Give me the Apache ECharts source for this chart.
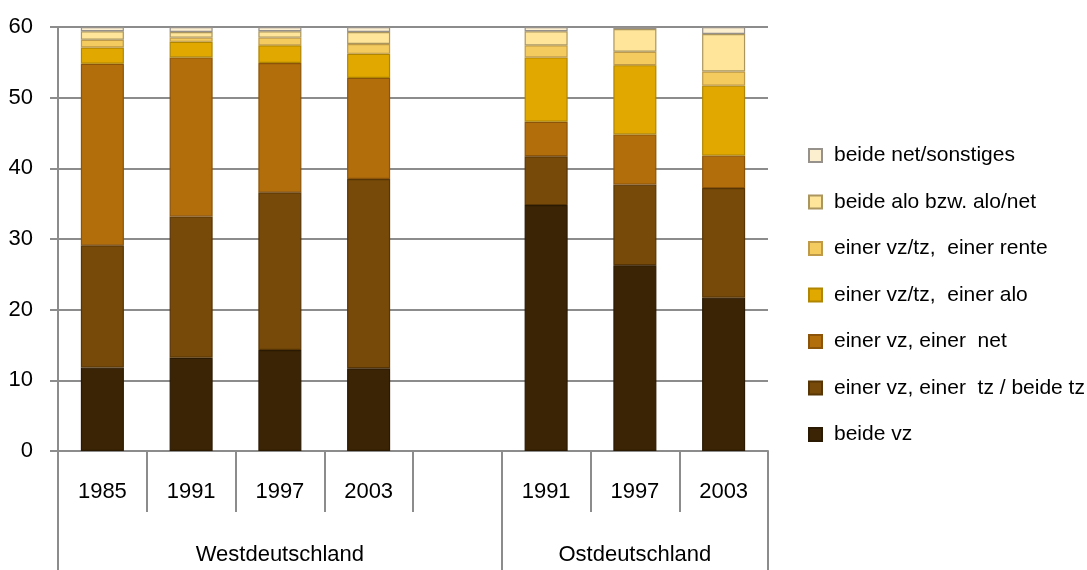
<!DOCTYPE html>
<html>
<head>
<meta charset="utf-8">
<script src="https://cdn.jsdelivr.net/npm/echarts@6/dist/echarts.min.js"></script>
<style>
  html, body { margin: 0; padding: 0; background: #ffffff; }
  #chart { width: 1087px; height: 570px; }
</style>
</head>
<body>
<div id="chart"></div>
<script>
// ---- data ----
var categories = ['1985', '1991', '1997', '2003', '', '1991', '1997', '2003'];
var groups = ['Westdeutschland', 'Ostdeutschland'];
var groupSizes = [5, 3];
var yTicks = [0, 10, 20, 30, 40, 50, 60];

var seriesNames = [
  'beide vz',
  'einer vz, einer  tz / beide tz',
  'einer vz, einer  net',
  'einer vz/tz,  einer alo',
  'einer vz/tz,  einer rente',
  'beide alo bzw. alo/net',
  'beide net/sonstiges'
];
var beideVz    = [11.8, 13.2, 14.3, 11.7, null, 34.8, 26.3, 21.7];
var vzTz       = [17.3, 20.0, 22.3, 26.8, null,  6.9, 11.4, 15.5];
var vzNet      = [25.7, 22.5, 18.3, 14.3, null,  4.9,  7.1,  4.6];
var vzTzAlo    = [ 2.3,  2.2,  2.5,  3.4, null,  9.1,  9.8,  9.9];
var vzTzRente  = [ 1.1,  0.6,  1.1,  1.4, null,  1.7,  1.9,  2.0];
var aloNet     = [ 1.2,  0.8,  0.9,  1.7, null,  2.0,  3.2,  5.3];
var sonstiges  = [ 0.6,  0.7,  0.6,  0.7, null,  0.6,  0.3,  1.0];

// ---- styles ----
var fills   = ['#3b2405', '#774a09', '#b36e0c', '#e1a900', '#f3cb5f', '#ffe599', '#fbefcf'];
var borders = ['#2b1a03', '#573505', '#8c5408', '#b08500', '#bf9a48', '#ab9660', '#96918a'];
var FONT = "'Liberation Sans', Arial, sans-serif";
var GRAY = '#8c8c8c';

var values = [beideVz, vzTz, vzNet, vzTzAlo, vzTzRente, aloNet, sonstiges];

// group label slots for the second category axis
var groupSlots = [];
var groupStarts = [];
var pos = 0;
groups.forEach(function (g, gi) {
  groupStarts.push(pos);
  for (var k = 0; k < groupSizes[gi]; k++) {
    groupSlots.push(k === Math.floor(groupSizes[gi] / 2) ? g : '');
  }
  pos += groupSizes[gi];
});

var series = values.map(function (arr, i) {
  return {
    name: seriesNames[i],
    type: 'bar',
    stack: 'total',
    barWidth: '48.5%',
    data: arr,
    itemStyle: { color: fills[i], borderColor: borders[i], borderWidth: 1.2 },
    emphasis: { disabled: true }
  };
});

var chart = echarts.init(document.getElementById('chart'), null, { renderer: 'canvas' });
chart.setOption({
  animation: false,
  backgroundColor: '#ffffff',
  textStyle: { fontFamily: FONT },
  grid: { left: 58, right: 319, top: 27, bottom: 119, containLabel: false },
  legend: {
    orient: 'vertical',
    left: 803,
    top: 140,
    itemWidth: 13,
    itemHeight: 13,
    itemGap: 25.5,
    icon: 'rect',
    data: seriesNames.slice().reverse(),
    textStyle: { fontFamily: FONT, fontSize: 21, color: '#000', padding: [0, 0, 0, 7] },
    selectedMode: false
  },
  xAxis: [
    {
      type: 'category',
      data: categories,
      position: 'bottom',
      axisLine: { show: true, lineStyle: { color: GRAY, width: 2 } },
      axisTick: { show: true, interval: 0, length: 61, lineStyle: { color: GRAY, width: 2 } },
      axisLabel: { interval: 0, margin: 30, fontFamily: FONT, fontSize: 22, color: '#000' },
      splitLine: { show: false }
    },
    {
      type: 'category',
      data: groupSlots,
      position: 'bottom',
      axisLine: { show: false },
      axisTick: {
        show: true,
        length: 125,
        interval: function (index) { return groupStarts.indexOf(index) >= 0; },
        lineStyle: { color: GRAY, width: 2 }
      },
      axisLabel: { interval: 0, margin: 93, fontFamily: FONT, fontSize: 22, color: '#000' },
      splitLine: { show: false }
    }
  ],
  yAxis: {
    type: 'value',
    min: yTicks[0],
    max: yTicks[yTicks.length - 1],
    interval: yTicks[1] - yTicks[0],
    axisLine: { show: true, lineStyle: { color: GRAY, width: 2 } },
    axisTick: { show: true, length: 8, lineStyle: { color: GRAY, width: 2 } },
    axisLabel: { margin: 25, fontFamily: FONT, fontSize: 22, color: '#000' },
    splitLine: { show: true, lineStyle: { color: GRAY, width: 2 } }
  },
  series: series
});
</script>
</body>
</html>
